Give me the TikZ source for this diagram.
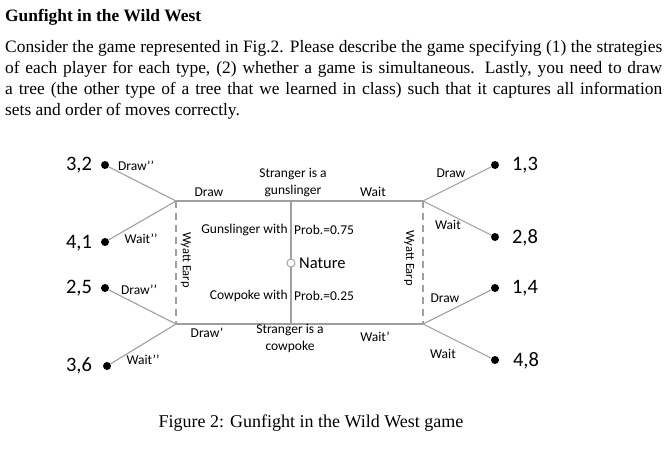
\documentclass[tikz,border=0pt]{standalone}
\usepackage{fontspec}
\setmainfont{Liberation Serif}
\newfontfamily\calibri{Carlito}

\begin{document}
\begin{tikzpicture}[x=1pt, y=-1pt,
        branch/.style={draw=gray!75, line width=1.1pt},
        infoset/.style={draw=gray!75, line width=1.1pt, dash pattern=on 7pt off 5pt},
        leaf/.style={circle, fill=black, inner sep=0pt, minimum size=8pt},
        chance/.style={circle, draw=gray!75, fill=white, line width=0.9pt, inner sep=0pt, minimum size=8pt},
        move/.style={font=\calibri\fontsize{13.5}{17}\selectfont, inner sep=0pt},
        payoff/.style={font=\calibri\fontsize{20.5}{24}\selectfont, inner sep=0pt}]
                \useasboundingbox (0,0) rectangle (672,451);
                \node[anchor=base west, inner sep=0pt, font=\bfseries\fontsize{17.4}{21}\selectfont] (title) at (5,21) {Gunfight in the Wild West};
                \node[anchor=base west, inner sep=0pt, text width=657pt, align=justify, font=\fontsize{17.4}{21}\selectfont] (task) at (5,52)
                    {Consider the game represented in Fig.2. Please describe the game specifying (1) the strategies\linebreak
                     of each player for each type, (2) whether a game is simultaneous. Lastly, you need to draw\linebreak
                     a tree (the other type of a tree that we learned in class) such that it captures all information\linebreak
                     sets and order of moves correctly.};
                \coordinate (WL) at (176,201);
                \coordinate (WR) at (423,201);
                \coordinate (WLb) at (176,324);
                \coordinate (WRb) at (423,324);
                \coordinate (ST) at (291,201);
                \coordinate (SB) at (291,324);
                \node[chance] (N) at (291,263) {};
                \node[leaf] (A) at (105,165) {};
                \node[leaf] (B) at (105,242) {};
                \node[leaf] (C) at (105,288) {};
                \node[leaf] (D) at (107,366) {};
                \node[leaf] (E) at (495,165) {};
                \node[leaf] (F) at (495,237) {};
                \node[leaf] (G) at (495,288) {};
                \node[leaf] (H) at (495,360) {};
                \draw[branch] (WL) -- (WR);
                \draw[branch] (WLb) -- (WRb);
                \draw[branch] (ST) -- (N) -- (SB);
                \draw[infoset] (WL) -- (WLb);
                \draw[infoset] (WR) -- (WRb);
                \draw[branch] (A) -- (WL) -- (B);
                \draw[branch] (C) -- (WLb) -- (D);
                \draw[branch] (E) -- (WR) -- (F);
                \draw[branch] (G) -- (WRb) -- (H);
                \node[payoff] (pA) at (79,165) {3,2};
                \node[payoff] (pB) at (79,243) {4,1};
                \node[payoff] (pC) at (79,288) {2,5};
                \node[payoff] (pD) at (79,366) {3,6};
                \node[payoff] (pE) at (525,165) {1,3};
                \node[payoff] (pF) at (525,238) {2,8};
                \node[payoff] (pG) at (525,288) {1,4};
                \node[payoff] (pH) at (526,361) {4,8};
                \node[move] (mA) at (136,166) {Draw’’};
                \node[move] (mB) at (141,239) {Wait’’};
                \node[move] (mC) at (139,290) {Draw’’};
                \node[move] (mD) at (143,360) {Wait’’};
                \node[move] (mE) at (451,173) {Draw};
                \node[move] (mF) at (448,225) {Wait};
                \node[move] (mG) at (445,298) {Draw};
                \node[move] (mH) at (443,354) {Wait};
                \node[move] (dT) at (209,192) {Draw};
                \node[move] (wT) at (373,192) {Wait};
                \node[move] (dB) at (207,333) {Draw’};
                \node[move] (wB) at (375,337) {Wait’};
                \node[move, align=center] (gun) at (293,183) {Stranger is a\\gunslinger};
                \node[move, align=center] (cow) at (290,338) {Stranger is a\\cowpoke};
                \node[move, anchor=east] (pg1) at (288,230) {Gunslinger with};
                \node[move, anchor=west] (pg2) at (294,230) {Prob.=0.75};
                \node[move, anchor=east] (pc1) at (288,296) {Cowpoke with};
                \node[move, anchor=west] (pc2) at (294,296) {Prob.=0.25};
                \node[anchor=west, inner sep=0pt, font=\calibri\fontsize{16.5}{20}\selectfont] (nat) at (299,263) {Nature};
                \node[move, rotate=-90, font=\calibri\fontsize{12.5}{15}\selectfont] (we1) at (186,260) {Wyatt Earp};
                \node[move, rotate=-90, font=\calibri\fontsize{12.5}{15}\selectfont] (we2) at (409,258) {Wyatt Earp};
                \node[anchor=base, inner sep=0pt, font=\fontsize{18}{22}\selectfont] (cap) at (311,427) {Figure 2: Gunfight in the Wild West game};
            \end{tikzpicture}
\end{document}
